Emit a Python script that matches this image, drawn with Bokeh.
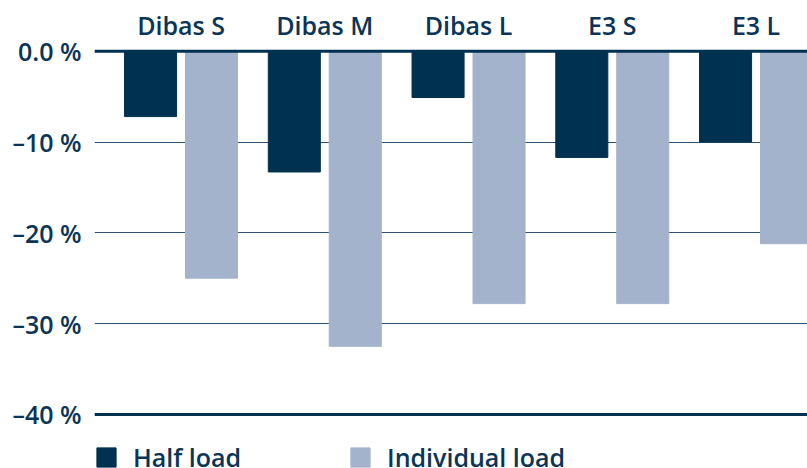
from bokeh.plotting import figure
from bokeh.models import FixedTicker, Span, Legend, LegendItem, ColumnDataSource
from bokeh.embed import file_html
from bokeh.resources import INLINE

categories = ["Dibas S", "Dibas M", "Dibas L", "E3 S", "E3 L"]
half_load = [-7.2, -13.3, -5.1, -11.7, -10.0]
individual_load = [-25.0, -32.5, -27.8, -27.8, -21.2]
y_ticks = [0, -10, -20, -30, -40]
y_tick_labels = ["0.0 %", "–10 %", "–20 %", "–30 %", "–40 %"]
series_names = ["Half load", "Individual load"]

DARK = "#003150"
LIGHT = "#a2b3cb"
TEXT = "#0b3556"
FONT = "Open Sans SemiBold"

pos = list(range(len(categories)))
off = 0.212
bw = 0.362

src = ColumnDataSource(dict(
    xh=[p_ - off for p_ in pos], xi=[p_ + off for p_ in pos],
    half=half_load, ind=individual_load))

p = figure(width=807, height=468, output_backend="svg", toolbar_location=None,
           x_range=(-0.602, 4.358), y_range=(-45.96, 0.3),
           x_axis_location="above",
           min_border_left=94, min_border_right=0, min_border_top=48,
           min_border_bottom=0)
p.outline_line_color = None
p.background_fill_color = "white"

rh = p.vbar(x="xh", top="half", bottom=0, width=bw, source=src, color=DARK)
ri = p.vbar(x="xi", top="ind", bottom=0, width=bw, source=src, color=LIGHT)

p.xgrid.grid_line_color = None
p.ygrid.ticker = FixedTicker(ticks=y_ticks)
p.ygrid.grid_line_color = "#2f5270"
p.ygrid.grid_line_width = 1

for yv in (0, -40):
    p.add_layout(Span(location=yv, dimension="width", line_color=DARK, line_width=3))

p.xaxis.ticker = FixedTicker(ticks=pos)
p.xaxis.major_label_overrides = {i: c for i, c in zip(pos, categories)}
p.yaxis.ticker = FixedTicker(ticks=y_ticks)
p.yaxis.major_label_overrides = {t: l for t, l in zip(y_ticks, y_tick_labels)}
for ax in (p.xaxis[0], p.yaxis[0]):
    ax.axis_line_color = None
    ax.major_tick_line_color = None
    ax.minor_tick_line_color = None
    ax.major_label_text_font = FONT
    ax.major_label_text_font_size = "25px"
    ax.major_label_text_color = TEXT
p.xaxis.major_label_standoff = 1
p.yaxis.major_label_standoff = 7

legend = Legend(items=[LegendItem(label=series_names[0], renderers=[rh]),
                       LegendItem(label=series_names[1], renderers=[ri])],
                orientation="horizontal", location=(0, -10),
                glyph_width=24, glyph_height=24, label_standoff=15,
                label_width=200, label_height=43, spacing=15, padding=3, margin=0,
                border_line_color=None, background_fill_alpha=0,
                label_text_font=FONT,
                label_text_font_size="25px", label_text_color=TEXT)
p.add_layout(legend)

open("out.html", "w").write(file_html(p, INLINE))
